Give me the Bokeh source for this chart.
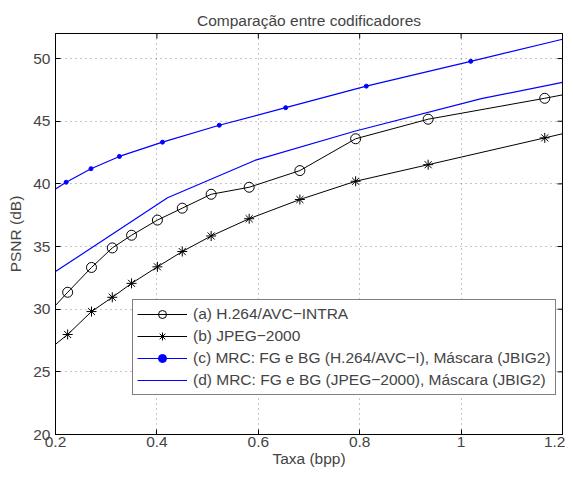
import math
from bokeh.plotting import figure
from bokeh.models import (Range1d, FixedTicker, Legend, LegendItem)
from bokeh.embed import file_html
from bokeh.resources import INLINE

# ---------------- data ----------------
title_text = "Comparação entre codificadores"
x_label = "Taxa (bpp)"
y_label = "PSNR (dB)"

x_min, x_max = 0.2, 1.2
y_min, y_max = 20, 52
x_ticks = [0.2, 0.4, 0.6, 0.8, 1.0, 1.2]
x_tick_labels = ["0.2", "0.4", "0.6", "0.8", "1", "1.2"]
y_ticks = [20, 25, 30, 35, 40, 45, 50]
y_tick_labels = ["20", "25", "30", "35", "40", "45", "50"]

# (a) H.264/AVC-INTRA  and (b) JPEG-2000: marker points
rate_ab = [0.224, 0.271, 0.312, 0.350, 0.401, 0.450, 0.507, 0.582, 0.682, 0.792, 0.935, 1.165]
psnr_a = [31.35, 33.33, 34.89, 35.90, 37.11, 38.06, 39.17, 39.73, 41.06, 43.60, 45.16, 46.83]
psnr_b = [27.98, 29.81, 30.95, 32.06, 33.38, 34.60, 35.84, 37.22, 38.75, 40.21, 41.53, 43.67]
# line values at the axis edges (0.2 and 1.2)
edge_x = [0.2, 1.2]
edge_a = [30.3, 47.1]
edge_b = [27.2, 44.0]

# (c) MRC: FG e BG (H.264/AVC-I), Mascara (JBIG2)
rate_c = [0.2, 0.221, 0.270, 0.326, 0.411, 0.523, 0.654, 0.813, 1.019, 1.2]
psnr_c = [39.6, 40.13, 41.21, 42.19, 43.33, 44.68, 46.08, 47.80, 49.78, 51.54]

# (d) MRC: FG e BG (JPEG-2000), Mascara (JBIG2)
rate_d = [0.2, 0.421, 0.593, 0.79, 1.04, 1.2]
psnr_d = [33.0, 38.89, 41.87, 44.2, 46.8, 48.1]

labels = ["(a) H.264/AVC\u2212INTRA",
          "(b) JPEG\u22122000",
          "(c) MRC: FG e BG (H.264/AVC\u2212I), Máscara (JBIG2)",
          "(d) MRC: FG e BG (JPEG\u22122000), Máscara (JBIG2)"]

FONT = "Liberation Sans"
FS = "15.5px"

p = figure(width=565, height=469, output_backend="svg", toolbar_location=None,
           x_range=Range1d(x_min, x_max), y_range=Range1d(y_min, y_max),
           min_border_left=55, min_border_right=3, min_border_top=33, min_border_bottom=33)

p.title.text = title_text
p.title.text_font = FONT
p.title.text_font_size = FS
p.title.text_font_style = "normal"
p.title.align = "center"
p.title.offset = 0
p.title.standoff = 10

p.outline_line_color = "black"
p.outline_line_alpha = 1
p.outline_line_width = 1

for ax in p.xaxis + p.yaxis:
    ax.major_tick_in = 5
    ax.major_tick_out = 0
    ax.minor_tick_line_color = None
    ax.axis_line_color = "black"
    ax.major_label_text_font = FONT
    ax.major_label_text_font_size = FS
    ax.axis_label_text_font = FONT
    ax.axis_label_text_font_size = FS
    ax.axis_label_text_font_style = "normal"

p.xaxis.ticker = FixedTicker(ticks=x_ticks)
p.xaxis.major_label_overrides = dict(zip(x_ticks, x_tick_labels))
p.xaxis.axis_label = x_label
p.xaxis.major_label_standoff = 2
p.xaxis.axis_label_standoff = 0

p.yaxis.ticker = FixedTicker(ticks=y_ticks)
p.yaxis.major_label_overrides = dict(zip(y_ticks, y_tick_labels))
p.yaxis.axis_label = y_label
p.yaxis.major_label_standoff = 5
p.yaxis.axis_label_standoff = 6

p.xgrid.ticker = FixedTicker(ticks=x_ticks)
p.ygrid.ticker = FixedTicker(ticks=y_ticks)
for g in (p.xgrid[0], p.ygrid[0]):
    g.grid_line_color = "black"
    g.grid_line_alpha = 0.45
    g.grid_line_dash = "1 4"
    g.grid_line_width = 1

# inward ticks on the top and right edges of the box (half clipped by the frame)
p.scatter(x_ticks, [y_max] * len(x_ticks), marker="dash", size=10, angle=math.pi / 2,
          line_color="black", line_width=1)
p.scatter([x_max] * len(y_ticks), y_ticks, marker="dash", size=10,
          line_color="black", line_width=1)

BLUE = "#0000ff"

# (a)
la = p.line(edge_x[:1] + rate_ab + edge_x[1:], edge_a[:1] + psnr_a + edge_a[1:],
            line_color="black", line_width=1)
ma = p.scatter(rate_ab, psnr_a, marker="circle", size=10, line_color="black",
               fill_alpha=0, line_width=1)
# (b)
lb = p.line(edge_x[:1] + rate_ab + edge_x[1:], edge_b[:1] + psnr_b + edge_b[1:],
            line_color="black", line_width=1)
mb = p.scatter(rate_ab, psnr_b, marker="asterisk", size=10, line_color="black", line_width=1)
# (c)
lc = p.line(rate_c, psnr_c, line_color=BLUE, line_width=1.2)
mc = p.scatter(rate_c[1:-1], psnr_c[1:-1], marker="circle", size=4, line_color=BLUE,
               fill_color=BLUE, line_width=1)
# (d)
ld = p.line(rate_d, psnr_d, line_color=BLUE, line_width=1.2)

legend = Legend(items=[
    LegendItem(label=labels[0], renderers=[la, ma]),
    LegendItem(label=labels[1], renderers=[lb, mb]),
    LegendItem(label=labels[2], renderers=[lc, mc]),
    LegendItem(label=labels[3], renderers=[ld]),
], location=(77, 39))
legend.label_text_font = FONT
legend.label_text_font_size = FS
legend.border_line_color = "black"
legend.border_line_width = 1
legend.padding = 4
legend.spacing = 2
legend.margin = 0
legend.glyph_width = 50
legend.glyph_height = 20
legend.label_height = 20
legend.label_standoff = 6
legend.background_fill_color = "white"
legend.background_fill_alpha = 1
p.add_layout(legend, "center")

open("out.html", "w").write(file_html(p, INLINE))
